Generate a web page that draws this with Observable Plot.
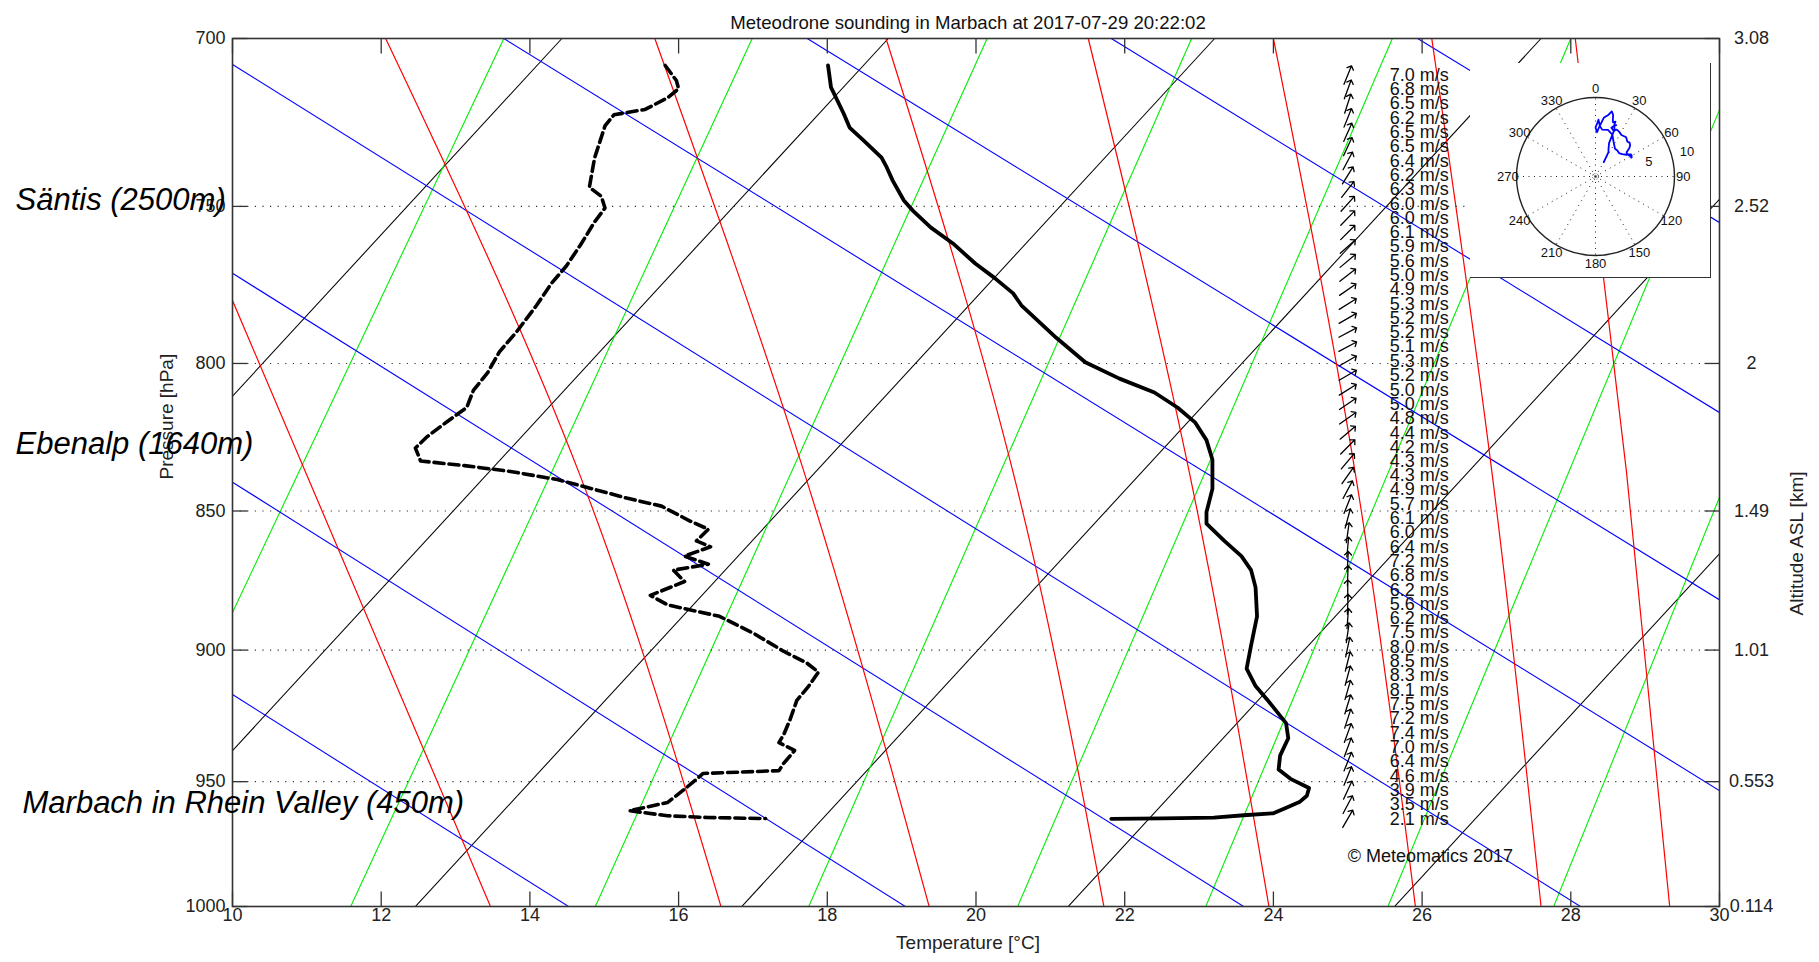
<!DOCTYPE html>
<html><head><meta charset="utf-8">
<script src="https://cdn.jsdelivr.net/npm/d3@7"></script>
<script src="https://cdn.jsdelivr.net/npm/@observablehq/plot@0.6"></script>
<style>
html,body{margin:0;padding:0;background:#fff;overflow:hidden;}
#wrap{position:relative;width:1819px;height:962px;}
#main{position:absolute;left:0;top:0;}
#inset{position:absolute;left:1470px;top:63px;width:240px;height:214px;background:#fff;border-right:1.5px solid #333;border-bottom:1.5px solid #333;}
</style></head><body><div id="wrap"><div id="main"></div><div id="inset"></div></div>
<script>
// ---------- axes / labels ----------
const title = "Meteodrone sounding in Marbach at 2017-07-29 20:22:02";
const xTicks = [10,12,14,16,18,20,22,24,26,28,30];
const pTicks = [700,750,800,850,900,950,1000];
const pGrid = [750,800,850,900,950];
const altLabels = ["3.08","2.52","2","1.49","1.01","0.553","0.114"];
const siteNames = ["Säntis (2500m)","Ebenalp (1640m)","Marbach in Rhein Valley (450m)"];
const siteP = [750, 828.8, 962.5];

// ---------- temperature profile (hPa, °C) ----------
const tempP = [707.8,714.2,721.9,726.1,730.0,735.1,738.1,742.1,748.2,751.3,756.5,761.5,767.8,772.2,777.3,781.1,791.6,799.6,805.0,809.6,814.6,819.7,825.6,832.3,842.3,850.4,854.4,860.5,865.9,870.9,877.1,887.6,898.3,906.9,913.4,920.0,927.4,933.2,939.9,945.3,948.9,952.5,955.5,958.0,960.5,962.4,963.2,964.1,964.4,964.6];
const tempT = [18.01,18.05,18.22,18.30,18.49,18.73,18.80,18.88,19.03,19.15,19.39,19.69,19.99,20.24,20.50,20.61,21.08,21.47,21.93,22.40,22.71,22.95,23.10,23.18,23.18,23.10,23.10,23.34,23.57,23.70,23.76,23.78,23.70,23.64,23.76,23.96,24.17,24.20,24.09,24.07,24.23,24.48,24.45,24.35,24.15,24.00,23.60,23.20,22.50,21.82];

// ---------- dew point profile (hPa, °C) ----------
const dewP = [707.8,712.2,714.6,717.3,720.7,722.3,725.6,735.2,744.1,746.9,750.5,754.8,762.0,768.6,774.1,781.1,789.7,796.2,803.1,808.9,814.6,819.3,824.4,828.3,832.7,834.3,836.3,839.1,842.3,845.5,848.3,853.6,856.4,860.5,862.6,865.9,868.8,870.9,875.0,880.0,883.4,887.6,894.0,900.4,904.7,908.2,913.4,918.8,926.0,931.4,934.9,937.9,943.0,945.7,946.8,952.7,958.2,961.4,963.4,964.1,964.5];
const dewT = [15.82,15.97,16.00,15.85,15.55,15.13,15.01,14.87,14.80,14.96,15.01,14.87,14.68,14.49,14.29,14.09,13.82,13.59,13.43,13.24,13.15,12.89,12.62,12.46,12.53,13.12,13.74,14.37,14.84,15.30,15.77,16.16,16.40,16.24,16.43,16.08,16.40,15.93,16.08,15.62,15.85,16.55,17.02,17.41,17.72,17.88,17.75,17.59,17.50,17.42,17.35,17.56,17.41,17.35,16.33,16.09,15.85,15.34,15.85,16.39,17.17];

// ---------- wind (hPa, m/s, direction toward, deg) ----------
const windP = [710.6,714.8,719.0,723.2,727.5,731.8,736.1,740.5,744.8,749.2,753.6,758.1,762.5,767.0,771.5,776.1,780.7,785.3,789.9,794.5,799.2,803.9,808.7,813.4,818.2,823.1,827.9,832.8,837.7,842.6,847.6,852.6,857.6,862.7,867.8,872.9,878.0,883.2,888.4,893.6,898.9,904.2,909.5,914.9,920.3,925.7,931.2,936.7,942.2,947.8,953.3,959.0,964.6];
const windSpeed = [7.0,6.8,6.5,6.2,6.5,6.5,6.4,6.2,6.3,6.0,6.0,6.1,5.9,5.6,5.0,4.9,5.3,5.2,5.2,5.1,5.3,5.2,5.0,5.0,4.8,4.4,4.2,4.3,4.3,4.9,5.7,6.1,6.0,6.4,7.2,6.8,6.2,5.6,6.2,7.5,8.0,8.5,8.3,8.1,7.5,7.2,7.4,7.0,6.4,4.6,3.9,3.5,2.1];
const windDir = [22,20,18,22,24,25,28,32,38,42,44,45,48,50,52,55,58,60,62,62,60,60,58,56,55,50,45,40,35,28,22,15,8,5,3,2,0,2,4,8,12,14,15,16,17,18,20,20,22,22,25,28,30];

// ---------- background guide lines (read at 1000 / 700 hPa, or at frame edges) ----------
const isoBottom = [3.68,8.07,12.46,16.85,21.24,25.63,30.02];
const isoTop    = [14.43,18.82,23.21,27.60,31.99,36.38,40.77];
const mixBottom = [8.13,11.59,14.88,17.75,20.56,23.09,25.54,27.77];
const mixTop    = [13.65,16.99,20.15,22.90,25.60,28.00,30.40,32.50];
const dryT1 = [10,10,10,10,13.65,17.73,21.82,25.94];
const dryP1 = [916.6,840.0,770.9,707.5,700,700,700,700];
const dryT2 = [14.52,19.05,23.60,28.13,30,30,30,30];
const dryP2 = [1000,1000,1000,1000,953.5,881.6,816.3,755.0];
const moistTop    = [12.06,15.68,18.79,21.51,24.00,26.13,28.06];
const moistMid    = [14.66,17.69,20.50,22.87,25.10,26.94,28.75];
const moistBottom = [16.57,19.37,21.72,23.94,25.91,27.60,29.33];
const moistMidP = 836.7;
const moistEdgeT = [10, 13.47];
const moistEdgeP = [779.6, 1000];

// ---------- hodograph decorations ----------
const polarAngles = [0,30,60,90,120,150,180,210,240,270,300,330];
const polarRings = [5];
const polarRadLabels = ["5","10"];

// ================= build =================
const W = 1819, H = 962, ML = 232, MR = 100, MT = 38, MB = 56;
const plotW = W - ML - MR, plotH = H - MT - MB;
const FONT = "'Liberation Sans', Arial, Helvetica, sans-serif";
const tickLen = 15;
const pInBottom = 1000 * Math.pow(700/1000, tickLen/plotH);
const pInTop = 700 * Math.pow(1000/700, tickLen/plotH);
const tIn = tickLen / plotW * 20;

const temp = tempP.map((p,i) => ({p, t: tempT[i]}));
const dew = dewP.map((p,i) => ({p, t: dewT[i]}));
const wind = windP.map((p,i) => ({p, s: windSpeed[i], dir: windDir[i]}));
const iso = isoBottom.map((b,i) => ({x1: b, y1: 1000, x2: isoTop[i], y2: 700}));
const mix = mixBottom.map((b,i) => ({x1: b, y1: 1000, x2: mixTop[i], y2: 700}));
const dry = dryT1.map((t,i) => ({x1: t, y1: dryP1[i], x2: dryT2[i], y2: dryP2[i]}));
const moist = [];
moistTop.forEach((t,i) => {
  moist.push({id: i, t, p: 700});
  moist.push({id: i, t: moistMid[i], p: moistMidP});
  moist.push({id: i, t: moistBottom[i], p: 1000});
});
moistEdgeT.forEach((t,i) => moist.push({id: 99, t, p: moistEdgeP[i]}));

const sites = siteNames.map((n,i) => ({n, p: siteP[i]}));

const main = Plot.plot({
  width: W, height: H,
  marginLeft: ML, marginRight: MR, marginTop: MT, marginBottom: MB,
  style: {fontFamily: FONT, background: "white", overflow: "visible"},
  x: {domain: [10, 30], axis: null},
  y: {type: "log", domain: [700, 1000], reverse: true, axis: null},
  marks: [
    Plot.link(iso, {x1: "x1", y1: "y1", x2: "x2", y2: "y2", stroke: "#000", strokeWidth: 1.05, clip: true}),
    Plot.link(mix, {x1: "x1", y1: "y1", x2: "x2", y2: "y2", stroke: "#00ee00", strokeWidth: 1.1, clip: true}),
    Plot.link(dry, {x1: "x1", y1: "y1", x2: "x2", y2: "y2", stroke: "#0000ff", strokeWidth: 1.1, clip: true}),
    Plot.line(moist, {x: "t", y: "p", z: "id", curve: "natural", stroke: "#ff0000", strokeWidth: 1.2, clip: true}),
    Plot.ruleY(pGrid, {y: d => d, stroke: "#333", strokeWidth: 1.1, strokeDasharray: "1.2,6.4"}),
    Plot.line(dew, {x: "t", y: "p", stroke: "#000", strokeWidth: 3.6, strokeDasharray: "10,5", strokeLinejoin: "round"}),
    Plot.line(temp, {x: "t", y: "p", stroke: "#000", strokeWidth: 3.8, strokeLinejoin: "round"}),
    Plot.vector(wind, {x: () => 25, y: "p", rotate: "dir", length: 20, r: 3, anchor: "middle", stroke: "#000", strokeWidth: 1.3}),
    Plot.text(wind, {x: () => 25, y: "p", text: d => d.s.toFixed(1) + " m/s", dx: 42, textAnchor: "start", fontSize: 18, fill: "#111"}),
    Plot.text(["© Meteomatics 2017"], {x: () => 25, y: () => 979.7, textAnchor: "start", fontSize: 18, fill: "#111"}),
    // ticks (inward)
    Plot.link(xTicks, {x1: d => d, x2: d => d, y1: 1000, y2: pInBottom, stroke: "#333", strokeWidth: 1.3}),
    Plot.link(xTicks, {x1: d => d, x2: d => d, y1: 700, y2: pInTop, stroke: "#333", strokeWidth: 1.3}),
    Plot.link(pTicks, {x1: 10, x2: 10 + tIn, y1: d => d, y2: d => d, stroke: "#333", strokeWidth: 1.3}),
    Plot.link(pTicks, {x1: 30, x2: 30 - tIn, y1: d => d, y2: d => d, stroke: "#333", strokeWidth: 1.3}),
    Plot.frame({stroke: "#333", strokeWidth: 1.6}),
    // tick labels
    Plot.text(xTicks, {x: d => d, frameAnchor: "bottom", dy: 14, text: d => String(d), fontSize: 18, fill: "#222"}),
    Plot.text(pTicks, {y: d => d, frameAnchor: "left", dx: -7, textAnchor: "end", text: d => String(d), fontSize: 18, fill: "#222"}),
    Plot.text(pTicks, {y: d => d, frameAnchor: "right", dx: 32, textAnchor: "middle", text: (d,i) => altLabels[i], fontSize: 18, fill: "#222"}),
    // axis titles
    Plot.text([title], {frameAnchor: "top", dy: -23, dx: -8, fontSize: 18.6, fill: "#111"}),
    Plot.text(["Temperature [°C]"], {frameAnchor: "bottom", dy: 42, dx: -8, fontSize: 19, fill: "#222"}),
    Plot.text(["Pressure [hPa]"], {frameAnchor: "left", dx: -66, dy: 7, rotate: -90, fontSize: 19, fill: "#222"}),
    Plot.text(["Altitude ASL [km]"], {frameAnchor: "right", dx: 77, dy: -1, rotate: -90, fontSize: 19, fill: "#222"}),
    // site labels
    Plot.text(sites.slice(0,2), {y: "p", text: "n", frameAnchor: "left", dx: -217, dy: 4, textAnchor: "start", lineAnchor: "bottom", fontSize: 31, fontStyle: "italic", fill: "#000"}),
    Plot.text(sites.slice(2), {y: "p", text: "n", frameAnchor: "left", dx: -210, dy: 0, textAnchor: "start", lineAnchor: "bottom", fontSize: 31, fontStyle: "italic", fill: "#000"})
  ]
});
document.getElementById("main").appendChild(main);

// ---------- hodograph inset ----------
const S = 7.9, CX = 125, CY = 113, IW = 240, IH = 214;
const rad = a => a * Math.PI / 180;
const inset = Plot.plot({
  width: IW, height: IH, margin: 0,
  style: {fontFamily: FONT, background: "white", overflow: "visible"},
  x: {domain: [-CX / S, (IW - CX) / S], axis: null},
  y: {domain: [-(IH - CY) / S, CY / S], axis: null},
  marks: [
    Plot.link(polarAngles, {x1: 0, y1: 0, x2: a => 10 * Math.sin(rad(a)), y2: a => 10 * Math.cos(rad(a)), stroke: "#222", strokeWidth: 1, strokeDasharray: "1,4.5"}),
    Plot.dot(polarRings, {x: 0, y: 0, r: d => d * S, fill: "none", stroke: "#222", strokeWidth: 1, strokeDasharray: "1,4.5"}),
    Plot.dot([0], {x: 0, y: 0, r: 3, fill: "none", stroke: "#444", strokeWidth: 0.8, strokeDasharray: "1,1.5"}),
    Plot.dot([10], {x: 0, y: 0, r: 10 * S, fill: "none", stroke: "#222", strokeWidth: 1.4}),
    Plot.line(wind, {x: d => d.s * Math.sin(rad(d.dir)), y: d => d.s * Math.cos(rad(d.dir)), stroke: "#0000ff", strokeWidth: 1.8}),
    Plot.text(polarAngles, {x: a => 11.1 * Math.sin(rad(a)), y: a => 11.1 * Math.cos(rad(a)), text: a => String(a), fontSize: 13, fill: "#111"}),
    Plot.text(polarRadLabels, {x: d => (+d + 2) * Math.sin(rad(75)), y: d => (+d + 2) * Math.cos(rad(75)), text: d => d, fontSize: 13, fill: "#111"})
  ]
});
document.getElementById("inset").appendChild(inset);
</script></body></html>
